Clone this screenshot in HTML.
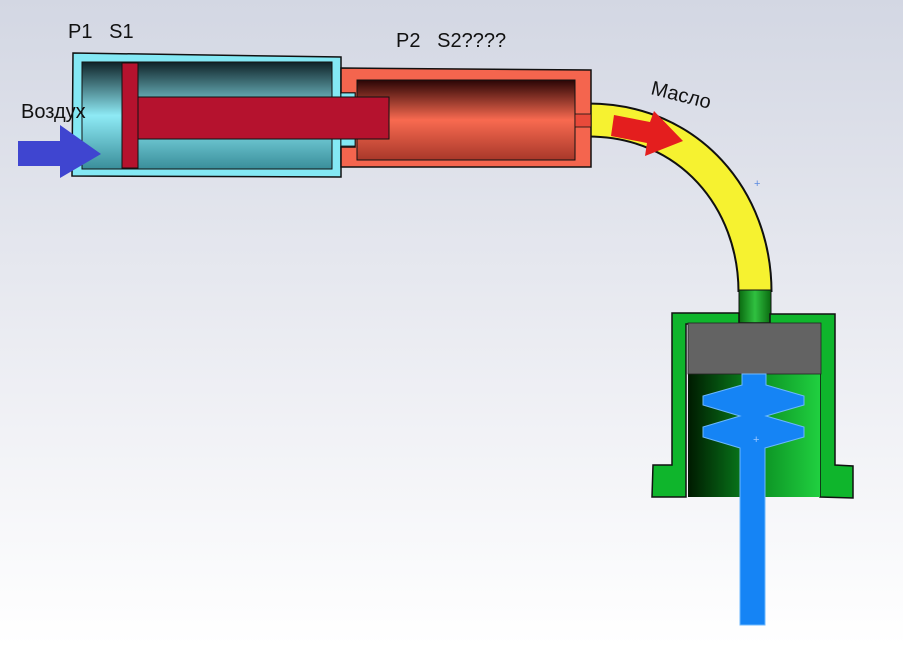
<!DOCTYPE html>
<html><head><meta charset="utf-8"><style>
html,body{margin:0;padding:0;width:903px;height:646px;overflow:hidden}
svg{display:block}
text{font-family:"Liberation Sans",sans-serif;font-size:20px;fill:#111}
</style></head><body>
<svg width="903" height="646" viewBox="0 0 903 646">
<defs>
<linearGradient id="bg" x1="0" y1="0" x2="0" y2="1"><stop offset="0" stop-color="#d3d7e3"/><stop offset="0.6" stop-color="#eeeff4"/><stop offset="1" stop-color="#ffffff"/></linearGradient>
<linearGradient id="cy" x1="0" y1="0" x2="0" y2="1"><stop offset="0" stop-color="#0f2328"/><stop offset="0.5" stop-color="#8eeaf5"/><stop offset="1" stop-color="#3a8e9a"/></linearGradient>
<linearGradient id="rd" x1="0" y1="0" x2="0" y2="1"><stop offset="0" stop-color="#2a0505"/><stop offset="0.5" stop-color="#f86a50"/><stop offset="1" stop-color="#a8382a"/></linearGradient>
<linearGradient id="gr" x1="0" y1="0" x2="1" y2="0"><stop offset="0" stop-color="#001a00"/><stop offset="0.5" stop-color="#0a8a20"/><stop offset="1" stop-color="#20d040"/></linearGradient>
<linearGradient id="gn" x1="0" y1="0" x2="1" y2="0"><stop offset="0" stop-color="#0a6a10"/><stop offset="0.5" stop-color="#30c040"/><stop offset="1" stop-color="#0a6a10"/></linearGradient>
</defs>
<rect width="903" height="646" fill="url(#bg)"/>
<path d="M588,120 C690,120 755,200 755,292" fill="none" stroke="#111" stroke-width="35"/>
<path d="M588,120 C690,120 755,200 755,292" fill="none" stroke="#f6f230" stroke-width="31"/>
<polygon points="73,53 341,57 341,177 72,176" fill="#84e8f4" stroke="#111" stroke-width="1.5"/>
<rect x="82" y="62" width="250" height="107" fill="url(#cy)" stroke="#111"/>
<rect x="122" y="63" width="16" height="105" fill="#b5122e" stroke="#111"/>
<polygon points="341,68 591,70 591,167 341,167 341,147 355,147 355,93 341,93" fill="#f4654e" stroke="#111" stroke-width="1.5"/>
<rect x="341" y="93" width="14" height="53" fill="#84e8f4" stroke="#111" stroke-width="0.8"/>
<rect x="357" y="80" width="218" height="80" fill="url(#rd)" stroke="#111"/>
<rect x="138" y="97" width="251" height="42" fill="#b5122e" stroke="#111"/>
<rect x="575" y="114" width="16" height="13" fill="#e84a3a" stroke="#111" stroke-width="0.8"/>
<polygon points="18,141 60,141 60,125 101,154 60,178 60,166 18,166" fill="#3f45d0"/>
<polygon points="614,115 650,122 654,111 683,141 645,156 647,143 611,136" fill="#e41e1e"/>
<rect x="739" y="290" width="32" height="34" fill="url(#gn)" stroke="#111"/>
<polygon points="672,313 739,313 739,323 770,323 770,314 835,314 835,465 853,466 853,498 820,497 820,324 686,324 686,497 652,497 653,465 672,465" fill="#0fb52c" stroke="#111" stroke-width="1.5"/>
<rect x="688" y="373" width="132" height="124" fill="url(#gr)"/>
<rect x="688" y="323" width="133" height="51" fill="#636363" stroke="#222" stroke-width="0.8"/>
<polygon points="742,374 766,374 766,385 804,396 804,405 766,416 804,427 804,437 765,448 765,625 740,625 740,448 703,437 703,427 740,416 703,405 703,396 742,385" fill="#1584f5" stroke="#6cb8ff" stroke-width="1"/>
<text x="754" y="187" style="font-size:11px;fill:#5a8ae0">+</text>
<text x="753" y="443" style="font-size:11px;fill:#9cc8ff">+</text>
<text x="68" y="38">P1&#160;&#160;&#160;S1</text>
<text x="396" y="47">P2&#160;&#160;&#160;S2????</text>
<text x="21" y="118">Воздух</text>
<text x="650" y="94" transform="rotate(14 650 94)">Масло</text>
</svg>
</body></html>
